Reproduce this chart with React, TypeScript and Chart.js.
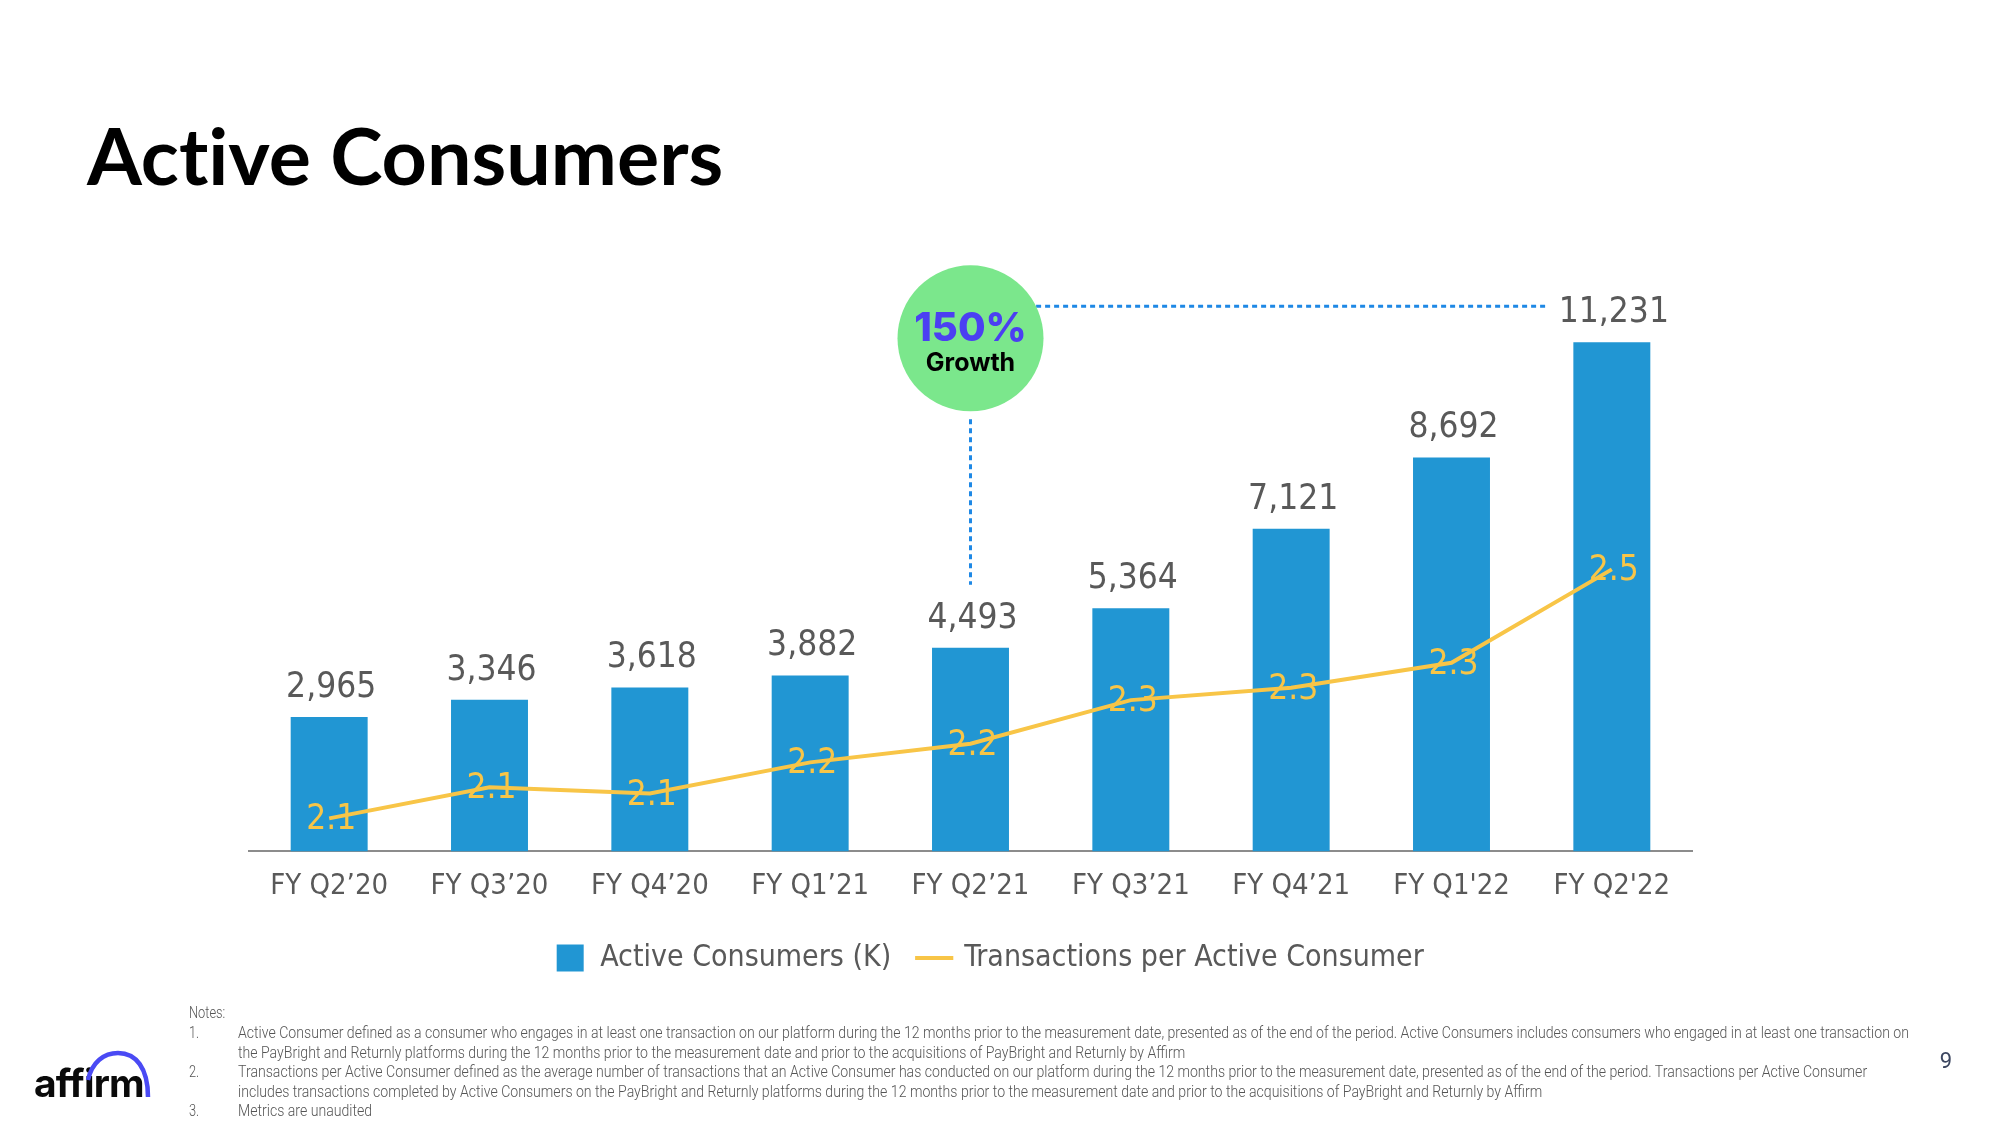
import React, { useEffect, useRef } from 'react';
import { Chart, registerables } from 'chart.js';

Chart.register(...registerables);

// ---------- data ----------
const categories = ['FY Q2’20', 'FY Q3’20', 'FY Q4’20', 'FY Q1’21', 'FY Q2’21', 'FY Q3’21', 'FY Q4’21', "FY Q1'22", "FY Q2'22"];
const activeConsumers = [2965, 3346, 3618, 3882, 4493, 5364, 7121, 8692, 11231];
const txPerConsumer = [2.08, 2.13, 2.12, 2.17, 2.2, 2.27, 2.29, 2.33, 2.48];
const seriesNames = ['Active Consumers (K)', 'Transactions per Active Consumer'];
const growthFromIndex = 4;
const growthToIndex = 8;
const growthSubLabel = 'Growth';
const titleText = 'Active Consumers';
const notesHeading = 'Notes:';
const noteNumbers = ['1.', '', '2.', '', '3.'];
const noteLines = [
  'Active Consumer defined as a consumer who engages in at least one transaction on our platform during the 12 months prior to the measurement date, presented as of the end of the period. Active Consumers includes consumers who engaged in at least one transaction on',
  'the PayBright and Returnly platforms during the 12 months prior to the measurement date and prior to the acquisitions of PayBright and Returnly by Affirm',
  'Transactions per Active Consumer defined as the average number of transactions that an Active Consumer has conducted on our platform during the 12 months prior to the measurement date, presented as of the end of the period. Transactions per Active Consumer',
  'includes transactions completed by Active Consumers on the PayBright and Returnly platforms during the 12 months prior to the measurement date and prior to the acquisitions of PayBright and Returnly by Affirm',
  'Metrics are unaudited',
];
const pageNumber = '9';

// ---------- styles ----------
const BAR_COLOR = '#2196D3';
const LINE_COLOR = '#F8C547';
const LABEL_GRAY = '#595959';
const COND = "'DejaVu Sans Condensed', 'DejaVu Sans', sans-serif";
const LEGEND_SHIFT = 19;

const fmt = (v: number) => v.toLocaleString('en-US');

const valueLabels = {
  id: 'valueLabels',
  afterDatasetsDraw(chart: any) {
    const ctx = chart.ctx;
    const barMeta = chart.getDatasetMeta(0);
    const lineMeta = chart.getDatasetMeta(1);
    ctx.save();
    ctx.font = `35px ${COND}`;
    ctx.textAlign = 'center';
    ctx.textBaseline = 'alphabetic';
    ctx.fillStyle = LABEL_GRAY;
    barMeta.data.forEach((el: any, i: number) => {
      ctx.fillText(fmt(activeConsumers[i]), el.x + 2, el.y - 20);
    });
    ctx.fillStyle = LINE_COLOR;
    ctx.textBaseline = 'middle';
    lineMeta.data.forEach((el: any, i: number) => {
      ctx.fillText(txPerConsumer[i].toFixed(1), el.x + 2, el.y + 2);
    });
    ctx.restore();
  },
};

const growthCallout = {
  id: 'growthCallout',
  afterDraw(chart: any) {
    const { ctx } = chart;
    const x = chart.scales.x;
    const y = chart.scales.y;
    const cx = x.getPixelForValue(growthFromIndex);
    const lastTop = y.getPixelForValue(activeConsumers[growthToIndex]);
    const fromTop = y.getPixelForValue(activeConsumers[growthFromIndex]);
    const lineY = lastTop - 36;
    const r = 73;
    const dy = 32;
    const cy = lineY + dy;
    const pct = Math.round((activeConsumers[growthToIndex] / activeConsumers[growthFromIndex] - 1) * 100);
    ctx.save();
    ctx.font = `35px ${COND}`;
    const lblW = ctx.measureText(fmt(activeConsumers[growthToIndex])).width;
    const endX = x.getPixelForValue(growthToIndex) + 2 - lblW / 2 - 10;
    const startX = cx + Math.sqrt(r * r - dy * dy);
    ctx.strokeStyle = '#1E88E5';
    ctx.lineWidth = 3;
    ctx.setLineDash([5, 4]);
    ctx.beginPath();
    ctx.moveTo(startX, lineY);
    ctx.lineTo(endX, lineY);
    ctx.stroke();
    ctx.beginPath();
    ctx.moveTo(cx, cy + r + 8);
    ctx.lineTo(cx, fromTop - 63);
    ctx.stroke();
    ctx.setLineDash([]);
    ctx.fillStyle = '#7BE78C';
    ctx.beginPath();
    ctx.arc(cx, cy, r, 0, Math.PI * 2);
    ctx.fill();
    ctx.textAlign = 'center';
    ctx.textBaseline = 'middle';
    ctx.fillStyle = '#4B3FF2';
    ctx.font = '800 40px Inter, sans-serif';
    ctx.fillText(`${pct}%`, cx, cy - 9);
    ctx.fillStyle = '#000';
    ctx.font = '700 25px Inter, sans-serif';
    ctx.fillText(growthSubLabel, cx, cy + 25);
    ctx.restore();
  },
};

const legendShift = {
  id: 'legendShift',
  afterLayout(chart: any) {
    const lg = chart.legend;
    if (lg) {
      lg.left += LEGEND_SHIFT;
      lg.right += LEGEND_SHIFT;
    }
  },
};

function ChartCanvas() {
  const ref = useRef<HTMLCanvasElement | null>(null);
  useEffect(() => {
    if (!ref.current) return;
    const chart = new Chart(ref.current, {
      data: {
        labels: categories,
        datasets: [
          {
            type: 'bar',
            label: seriesNames[0],
            data: activeConsumers,
            yAxisID: 'y',
            backgroundColor: BAR_COLOR,
            borderWidth: 0,
            barPercentage: 0.48,
            categoryPercentage: 1,
            order: 2,
          } as any,
          {
            type: 'line',
            label: seriesNames[1],
            data: txPerConsumer,
            yAxisID: 'y2',
            borderColor: LINE_COLOR,
            backgroundColor: LINE_COLOR,
            borderWidth: 4,
            pointRadius: 0,
            tension: 0,
            order: 1,
          } as any,
        ],
      },
      options: {
        responsive: false,
        animation: false,
        devicePixelRatio: 1,
        events: [],
        layout: { padding: { left: 249, right: 308, top: 307.5, bottom: 142 } },
        scales: {
          x: {
            grid: { display: false, drawTicks: false },
            border: { display: true, color: '#8C8C8C', width: 2 },
            ticks: {
              color: LABEL_GRAY,
              font: { family: COND, size: 29 },
              padding: 18,
              maxRotation: 0,
              autoSkip: false,
            },
            afterFit: (s: any) => {
              s.height -= 7.2;
            },
          },
          y: { display: false, min: 0, max: 12000 },
          y2: { display: false, min: 2.027, max: 2.9006 },
        },
        plugins: {
          tooltip: { enabled: false },
          legend: {
            position: 'bottom',
            labels: {
              usePointStyle: true,
              boxHeight: 27,
              padding: 28,
              color: LABEL_GRAY,
              font: { family: COND, size: 30 },
              sort: (a: any, b: any) => a.datasetIndex - b.datasetIndex,
              generateLabels: (c: any) => {
                const items = Chart.defaults.plugins.legend.labels.generateLabels(c);
                return items.map((it: any) => ({
                  ...it,
                  pointStyle: it.datasetIndex === 0 ? 'rect' : 'line',
                  lineWidth: it.datasetIndex === 0 ? 0 : 4,
                  strokeStyle: it.datasetIndex === 0 ? BAR_COLOR : LINE_COLOR,
                  fillStyle: it.datasetIndex === 0 ? BAR_COLOR : LINE_COLOR,
                }));
              },
            },
          },
        },
      } as any,
      plugins: [valueLabels, growthCallout, legendShift],
    } as any);
    return () => chart.destroy();
  }, []);
  return <canvas ref={ref} width={2000} height={1125} style={{ position: 'absolute', left: 0, top: 0 }} />;
}

function Notes() {
  const textRef = useRef<HTMLDivElement | null>(null);
  const firstRef = useRef<HTMLSpanElement | null>(null);
  useEffect(() => {
    if (textRef.current && firstRef.current) {
      const w = firstRef.current.getBoundingClientRect().width;
      const k = 1671 / w;
      textRef.current.style.transform = `scaleX(${k})`;
    }
  }, []);
  const lh = 19.6;
  return (
    <div style={{ position: 'absolute', left: 189, top: 1002.5, fontFamily: 'Roboto, sans-serif', fontSize: 16, fontWeight: 300, color: '#555', lineHeight: `${lh}px`, whiteSpace: 'nowrap' }}>
      <div style={{ transform: 'scaleX(0.8)', transformOrigin: 'left' }}>{notesHeading}</div>
      <div style={{ position: 'relative', top: 1 }}>
        {noteNumbers.map((n, i) => (
          <div key={i} style={{ position: 'absolute', left: 0, top: i * lh, transform: 'scaleX(0.8)', transformOrigin: 'left' }}>{n}</div>
        ))}
        <div ref={textRef} style={{ position: 'absolute', left: 49, top: 0, transformOrigin: 'left top' }}>
          {noteLines.map((t, i) => (
            <div key={i}>
              <span ref={i === 0 ? firstRef : undefined}>{t}</span>
            </div>
          ))}
        </div>
      </div>
    </div>
  );
}

function Logo() {
  return (
    <svg width={200} height={100} style={{ position: 'absolute', left: 0, top: 1030 }} viewBox="0 1030 200 100">
      <text x={34} y={1097} fontFamily="Inter, sans-serif" fontWeight={700} fontSize={39} fill="#0A0A0A" letterSpacing={-0.8}>
        affirm
      </text>
      <path d="M88,1080 C92,1062 104,1053 118,1053 C136,1053 148,1068 148,1097" fill="none" stroke="#4A4AF4" strokeWidth={4.5} />
    </svg>
  );
}

export default function App() {
  return (
    <div style={{ position: 'absolute', left: 0, top: 0, width: 2000, height: 1125, background: '#fff', overflow: 'hidden' }}>
      <ChartCanvas />
      <div style={{ position: 'absolute', left: 87, top: 115, fontFamily: 'Lato, sans-serif', fontWeight: 700, fontSize: 79, lineHeight: 1, letterSpacing: 0, fontVariantLigatures: 'none', fontFeatureSettings: '"liga" 0, "clig" 0, "dlig" 0', color: '#000', whiteSpace: 'nowrap' }}>
        {titleText}
      </div>
      <Notes />
      <Logo />
      <div style={{ position: 'absolute', left: 1936, top: 1047, width: 20, textAlign: 'center', fontFamily: 'Roboto, sans-serif', fontSize: 22, color: '#3c4660', lineHeight: '28px' }}>
        {pageNumber}
      </div>
    </div>
  );
}
